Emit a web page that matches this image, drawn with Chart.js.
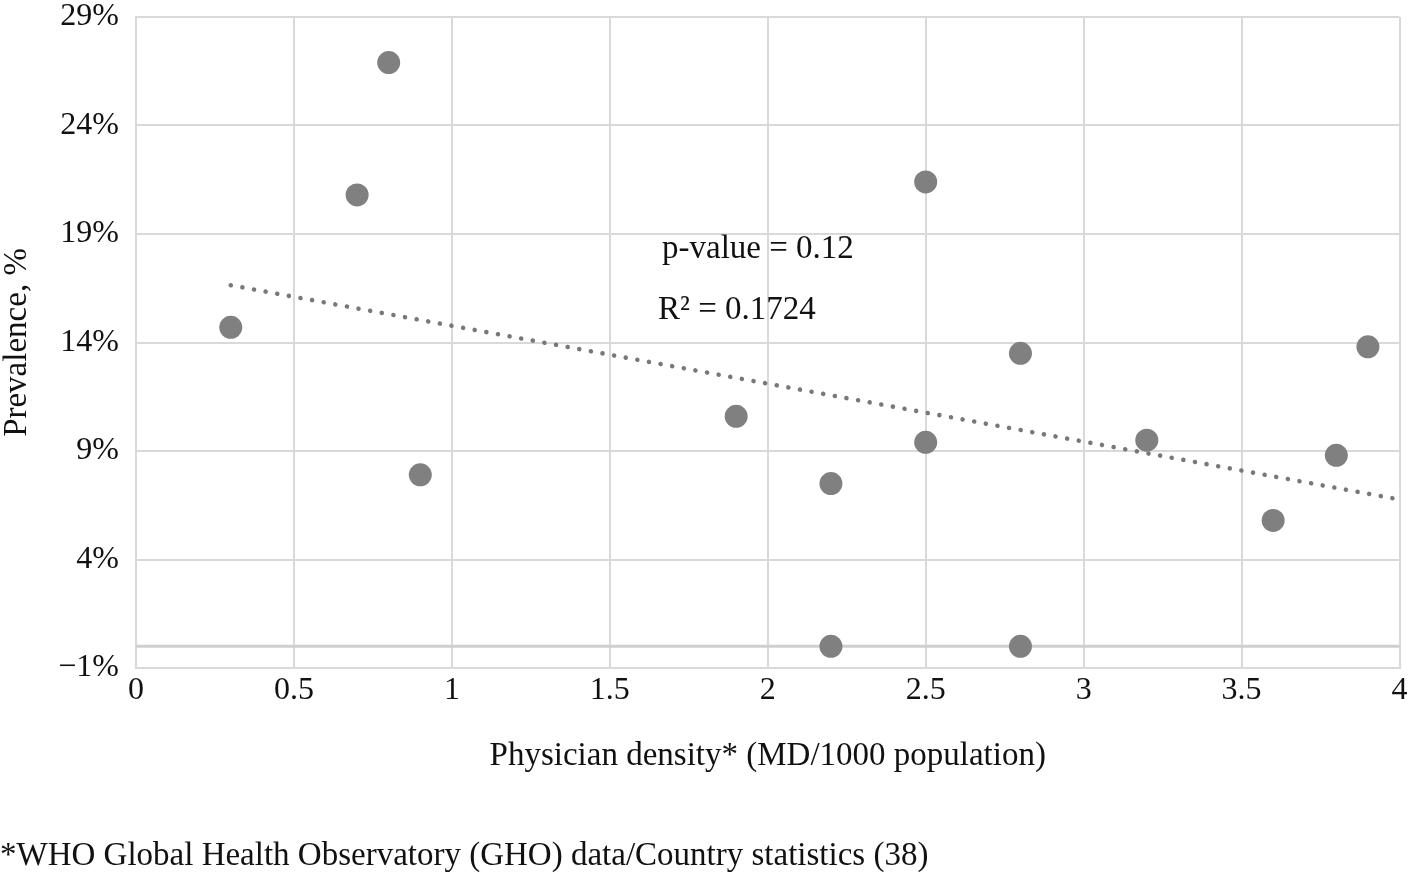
<!DOCTYPE html>
<html>
<head>
<meta charset="utf-8">
<script src="https://cdn.jsdelivr.net/npm/chart.js@4.4.1/dist/chart.umd.min.js"></script>
<style>
  html, body { margin: 0; padding: 0; background: #fff; }
  #wrap { width: 1411px; height: 874px; position: relative; }
</style>
</head>
<body>
<div id="wrap"><canvas id="c"></canvas></div>
<script>
// Data
const physicianDensity = [0.3, 0.7, 0.8, 0.9, 1.9, 2.2, 2.2, 2.5, 2.5, 2.8, 2.8, 3.2, 3.6, 3.8, 3.9];
const prevalence = [14.7, 20.8, 26.9, 7.9, 10.6, 7.5, 0, 21.4, 9.4, 13.5, 0, 9.5, 5.8, 8.8, 13.8];
const xTicks = [0, 0.5, 1, 1.5, 2, 2.5, 3, 3.5, 4];
const yTicks = [-1, 4, 9, 14, 19, 24, 29];
const pValueText = 'p-value = 0.12';
const r2Text = 'R² = 0.1724';
const xTitle = 'Physician density* (MD/1000 population)';
const yTitle = 'Prevalence, %';
const footnote = '*WHO Global Health Observatory (GHO) data/Country statistics (38)';

// Linear trend line (least squares) from the data
const n = physicianDensity.length;
const mx = physicianDensity.reduce((a, b) => a + b, 0) / n;
const my = prevalence.reduce((a, b) => a + b, 0) / n;
let sxy = 0, sxx = 0;
for (let i = 0; i < n; i++) {
  sxy += (physicianDensity[i] - mx) * (prevalence[i] - my);
  sxx += (physicianDensity[i] - mx) ** 2;
}
const slope = sxy / sxx;
const intercept = my - slope * mx;
const trendX = [Math.min(...physicianDensity), xTicks[xTicks.length - 1]];
const trendPts = trendX.map(x => ({ x, y: intercept + slope * x }));

const points = physicianDensity.map((x, i) => ({ x, y: prevalence[i] }));

const FONT = '"Liberation Serif", "Times New Roman", serif';
const TXT = '#111';

const extras = {
  id: 'extras',
  beforeDatasetsDraw(chart) {
    const { ctx, chartArea, scales } = chart;
    const y0 = scales.y.getPixelForValue(0);
    ctx.save();
    ctx.strokeStyle = '#cfcfcf';
    ctx.lineWidth = 3;
    ctx.beginPath();
    ctx.moveTo(chartArea.left, y0);
    ctx.lineTo(chartArea.right, y0);
    ctx.stroke();
    ctx.restore();
  },
  afterDraw(chart) {
    const { ctx } = chart;
    ctx.save();
    ctx.fillStyle = TXT;
    ctx.font = '33px ' + FONT;
    ctx.textBaseline = 'middle';
    ctx.textAlign = 'left';
    ctx.fillText(pValueText, 662, 249);
    ctx.fillText(r2Text, 658, 310);
    ctx.fillText(footnote, 0, 856);
    ctx.restore();
  }
};

new Chart(document.getElementById('c'), {
  type: 'scatter',
  data: {
    datasets: [
      {
        label: 'Prevalence',
        data: points,
        backgroundColor: '#808080',
        borderColor: '#808080',
        borderWidth: 0,
        pointRadius: 11.5,
        pointHoverRadius: 11.5,
        order: 1
      },
      {
        type: 'line',
        label: 'Trend',
        data: trendPts,
        borderColor: '#787878',
        borderWidth: 4.6,
        borderDash: [0.01, 11.8],
        borderCapStyle: 'round',
        pointRadius: 0,
        fill: false,
        order: 2
      }
    ]
  },
  plugins: [extras],
  options: {
    responsive: true,
    maintainAspectRatio: false,
    animation: false,
    devicePixelRatio: 1,
    layout: { padding: { top: 17, right: 5, bottom: 98, left: 0 } },
    plugins: { legend: { display: false }, tooltip: { enabled: false } },
    scales: {
      x: {
        type: 'linear',
        min: 0, max: 4,
        afterBuildTicks(scale) { scale.ticks = xTicks.map(v => ({ value: v })); },
        afterFit(scale) {
          scale.height = 108;
          scale.paddingLeft = 0; scale.paddingRight = 0;
        },
        grid: { color: '#d9d9d9', lineWidth: 2, drawTicks: false },
        border: { color: '#d9d9d9', width: 2 },
        ticks: { color: TXT, font: { family: FONT, size: 32, lineHeight: 1.0 }, padding: 7, maxRotation: 0,
                 callback: v => String(v) },
        title: { display: true, text: xTitle, color: TXT, font: { family: FONT, size: 33, lineHeight: 1.2 },
                 padding: { top: 0, bottom: 0 } }
      },
      y: {
        type: 'linear',
        min: -1, max: 29,
        afterBuildTicks(scale) { scale.ticks = yTicks.map(v => ({ value: v })); },
        afterFit(scale) {
          scale.width = 136;
          scale.paddingTop = 0; scale.paddingBottom = 0;
        },
        grid: { color: '#d9d9d9', lineWidth: 2, drawTicks: false },
        border: { color: '#d9d9d9', width: 2 },
        ticks: { color: TXT, font: { family: FONT, size: 32, lineHeight: 1.0 }, padding: 17,
                 callback: v => (v < 0 ? '\u2212' + Math.abs(v) : v) + '%' },
        title: { display: true, text: yTitle, color: TXT, font: { family: FONT, size: 33, lineHeight: 1.0 },
                 padding: { top: 1, bottom: 0 } }
      }
    }
  }
});
</script>
</body>
</html>
